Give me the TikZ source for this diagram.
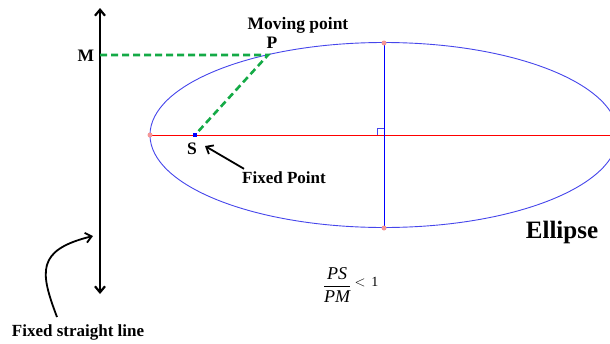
\documentclass[tikz,border=0pt]{standalone}
\usepackage{fontspec}
\setmainfont{Liberation Serif}
\usetikzlibrary{arrows.meta}
\definecolor{dashgreen}{RGB}{20,170,70}
\definecolor{curveblue}{RGB}{70,70,235}
\definecolor{dotpink}{RGB}{245,150,150}

\begin{document}
\begin{tikzpicture}[
    x=1pt, y=-1pt,
    lbl/.style={font=\bfseries\fontsize{17.5}{20}\selectfont, inner sep=0pt},
    dirline/.style={{Straight Barb[length=6pt,width=10pt]}-{Straight Barb[length=6pt,width=10pt]}, line width=2.2pt},
    pointer/.style={-{Straight Barb[length=6pt,width=10pt]}, line width=1.8pt},
    focal/.style={dashgreen, dash pattern=on 7pt off 4pt, line width=2.6pt},
    vdot/.style={circle, fill=dotpink, inner sep=0pt, minimum size=5pt},
]
\useasboundingbox (0,0) rectangle (610,343);

% Points
\coordinate (C) at (384,135);
\coordinate (V) at (150,135);
\coordinate (Btop) at (384,43);
\coordinate (Bbot) at (384,228);
\coordinate (Rend) at (610,135);
\coordinate (S) at (195,135);
\coordinate (P) at (268,55);
\coordinate (M) at (100,55);
\coordinate (Dtop) at (100,8);
\coordinate (Dbot) at (100,294);
\coordinate (Stip) at (205,146);
\coordinate (Ltip) at (93,236);

% Ellipse and axes
\begin{scope}
\clip (0,0) rectangle (610,343);
\draw[curveblue, line width=0.9pt] (C) ellipse [x radius=234pt, y radius=92.5pt];
\end{scope}
\draw[red, line width=1pt] (V) -- (Rend);
\draw[blue, line width=1pt] (Btop) -- (Bbot);
\draw[curveblue, line width=0.7pt] ([xshift=-7pt]C) -- ++(0,-7) -- ++(7,0);
\node[vdot] (v1) at (V) {};
\node[vdot] (v2) at (Btop) {};
\node[vdot] (v3) at (Bbot) {};

% Directrix
\draw[dirline] (Dtop) -- (Dbot);

% Distances
\draw[focal] (M) -- (P) -- (S);
\node[fill=blue, inner sep=0pt, minimum size=3.5pt] (Sdot) at (S) {};

% Labels
\node[lbl] (mlbl) at (86,56) {M};
\node[lbl] (plbl) at (272,43) {P};
\node[lbl] (movlbl) at (298,25) {Moving point};
\node[lbl] (slbl) at (192,149) {S};
\node[lbl, font=\bfseries\fontsize{17}{20}\selectfont] (fixlbl) at (284,178) {Fixed Point};
\node[lbl, font=\bfseries\fontsize{17}{20}\selectfont] (linelbl) at (78,332) {Fixed straight line};
\node[font=\bfseries\fontsize{25}{28}\selectfont, inner sep=0pt] (elllbl) at (562,232) {Ellipse};
\node[inner sep=0pt, font=\fontsize{18}{20}\selectfont] (ratio) at (337,285) {$\displaystyle\frac{\textit{PS}}{\textit{PM}}$};
\node[inner sep=0pt, anchor=south west, font=\fontsize{14}{16}\selectfont] (lt) at ([xshift=3pt,yshift=-2pt]ratio.east) {$<$\, 1};

% Pointers
\draw[pointer] ([shift={(2,-3)}]fixlbl.north west) -- (Stip);
\draw[pointer] ([shift={(-21,-7)}]linelbl.north) .. controls (40,272) and (36,250) .. (Ltip);

\end{tikzpicture}
\end{document}
